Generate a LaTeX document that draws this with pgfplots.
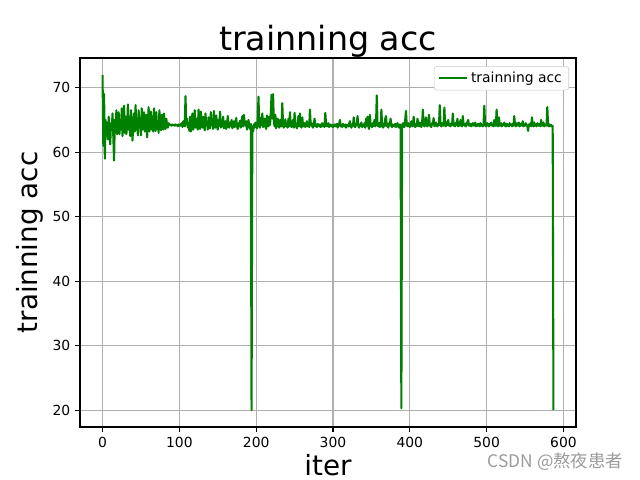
\documentclass[border=0pt]{standalone}
\usepackage{fontspec}
\setmainfont{DejaVu Sans}
\newfontfamily\cjk{Noto Sans CJK SC}
\usepackage{pgfplots}
\pgfplotsset{compat=1.18}
\definecolor{mplgreen}{RGB}{0,128,0}
\definecolor{gridgray}{RGB}{176,176,176}
\definecolor{legframe}{RGB}{204,204,204}
\definecolor{wmgray}{RGB}{155,155,155}
\begin{document}
\begin{tikzpicture}
\path[use as bounding box] (0,0) rectangle (460.8pt,345.6pt);
\begin{axis}[
 at={(57.6pt,38.16pt)}, anchor=south west,
 scale only axis, width=357.12pt, height=265.68pt,
 xmin=-29.35, xmax=616.35, ymin=17.4, ymax=74.6,
 xtick={0,100,...,600}, ytick={20,30,...,70},
 grid=major, major grid style={gridgray, line width=0.8pt},
 axis line style={black, line width=0.8pt},
 tick align=outside, tick pos=left, major tick length=3.5pt,
 tick style={black, line width=0.8pt},
 ticklabel style={font=\fontsize{10}{12}\selectfont},
 /pgf/number format/assume math mode=true,
 title={trainning acc},
 title style={font=\fontsize{24}{28}\selectfont, inner sep=0pt,
   at={(axis description cs:0.5,0.9973)}, anchor=base},
 xlabel={iter},
 xlabel style={font=\fontsize{20}{24}\selectfont, inner sep=0pt,
   at={(axis description cs:0.5,-0.132)}, anchor=base},
 ylabel={trainning acc},
 ylabel style={font=\fontsize{20}{24}\selectfont, inner sep=0pt,
   at={(axis description cs:-0.0847,0.5)}, anchor=base},
 legend style={at={(0.986,0.978)}, anchor=north east, draw=legframe,
   rounded corners=2pt, font=\fontsize{10}{12}\selectfont},
 legend cell align=left,
 legend image code/.code={\draw[#1] (0pt,0pt) -- (20pt,0pt);},
]
\addplot[mplgreen, line width=1.5pt, line join=round] table[x expr=\coordindex, y index=0, header=false, row sep=\\] {
72\\61\\69\\59\\65\\63\\64.5\\62\\65.5\\63\\61.2\\64.5\\63.5\\66\\62.5\\58.7\\65\\63\\66.5\\62.8\\
64.5\\66.2\\62.8\\65\\63.5\\66.8\\62.5\\64.8\\67.2\\63\\65.5\\62.8\\64\\67.4\\63.5\\65.2\\62.5\\66.5\\64\\61.8\\
64.5\\66\\63.2\\67.3\\63.5\\64.8\\62.6\\66.5\\63.8\\65.2\\62.6\\66.8\\63.5\\64.5\\66.2\\63.2\\64.5\\65.8\\62.3\\64.5\\
67\\63.2\\64.8\\66.3\\63.5\\65.5\\63.2\\66.8\\64\\63.3\\66.2\\63.6\\64.8\\63\\66.5\\64.2\\63.4\\65.8\\64.2\\63.5\\
66\\64\\63.6\\65.2\\64.2\\63.8\\64.5\\64.2\\64.3\\64.2\\64.1\\64.3\\64.2\\64.2\\64.1\\64.3\\64.2\\64.2\\64.0\\64.3\\
64.2\\64.1\\64.3\\64.5\\63.9\\64.8\\64.2\\64.0\\68.7\\64.3\\65.2\\63.8\\64.5\\63.3\\65.5\\63.2\\64.8\\66.0\\63.5\\64.2\\
66.5\\63.8\\64.5\\65.2\\63.5\\66.6\\64.1\\63.6\\66.3\\64.3\\63.8\\65.5\\64.1\\63.4\\66.0\\64.2\\64.6\\63.5\\65.4\\64.0\\
63.7\\66.2\\64.2\\64.5\\63.6\\66.4\\64.0\\63.8\\65.7\\64.3\\63.5\\65.0\\64.1\\66.3\\63.8\\64.4\\64.0\\65.5\\63.7\\64.3\\
64.8\\63.6\\64.2\\65.6\\64.0\\63.8\\64.6\\64.1\\65.0\\63.7\\64.3\\64.8\\63.9\\64.2\\65.3\\64.0\\63.6\\64.5\\64.1\\64.9\\
63.8\\64.4\\65.6\\64.0\\65.8\\64.5\\64.1\\64.8\\63.5\\64.3\\65.0\\64.0\\63.6\\64.4\\20.0\\64.0\\63.2\\64.3\\63.8\\64.6\\
64.2\\63.7\\65.0\\68.6\\64.1\\63.8\\65.3\\64.2\\66.0\\63.9\\64.5\\65.2\\64.0\\63.6\\65.7\\64.3\\64.0\\65.5\\64.2\\66.0\\
68.9\\65.2\\69.0\\64.8\\64.0\\65.8\\63.7\\64.5\\65.2\\64.1\\63.8\\65.0\\64.3\\64.0\\67.6\\64.2\\63.8\\64.5\\65.1\\64.0\\
64.3\\63.8\\65.2\\64.0\\66.2\\64.1\\63.9\\64.6\\65.0\\63.8\\66.1\\64.2\\64.0\\63.7\\64.5\\65.6\\64.0\\66.0\\64.1\\63.8\\
65.4\\64.2\\64.0\\64.5\\63.9\\64.2\\64.8\\64.0\\64.3\\63.9\\66.6\\64.2\\64.5\\64.0\\63.8\\64.3\\65.2\\64.1\\64.0\\63.9\\
64.4\\64.2\\64.0\\64.3\\63.9\\64.1\\64.5\\64.0\\64.2\\63.9\\66.1\\64.3\\64.0\\64.2\\64.5\\63.9\\64.1\\64.3\\64.0\\64.2\\
63.9\\64.1\\64.3\\64.0\\64.2\\64.4\\63.8\\64.1\\64.3\\65.0\\64.0\\64.2\\63.9\\64.4\\64.1\\64.0\\64.3\\63.8\\64.2\\64.1\\
64.0\\64.4\\64.8\\64.0\\63.8\\64.3\\64.1\\65.4\\64.0\\63.9\\64.2\\64.5\\65.6\\64.0\\63.8\\64.3\\64.1\\64.6\\63.9\\64.2\\
64.0\\64.5\\63.8\\65.2\\64.1\\65.5\\64.0\\63.6\\65.8\\64.2\\64.0\\63.9\\64.5\\64.1\\65.0\\64.0\\64.3\\68.8\\64.2\\64.0\\
64.5\\63.9\\64.2\\66.6\\64.1\\63.8\\64.4\\64.0\\65.2\\65.6\\64.1\\64.0\\63.8\\64.5\\64.2\\65.2\\64.0\\63.9\\64.3\\64.1\\
64.0\\64.4\\63.9\\64.2\\64.5\\64.0\\63.8\\64.3\\64.1\\20.3\\64.2\\64.5\\64.0\\63.9\\65.0\\66.4\\64.2\\64.0\\64.5\\64.1\\
63.9\\64.3\\64.8\\64.0\\64.2\\65.5\\64.1\\63.9\\64.4\\64.0\\65.2\\64.3\\64.0\\64.6\\64.2\\63.9\\64.5\\66.6\\64.2\\64.0\\
64.4\\65.4\\64.1\\64.0\\64.6\\65.8\\64.2\\64.0\\63.9\\64.5\\64.3\\65.3\\64.0\\64.2\\64.6\\64.1\\64.0\\64.4\\64.2\\67.3\\
64.3\\64.0\\64.5\\64.2\\64.1\\66.9\\64.3\\64.0\\64.6\\64.2\\65.0\\64.1\\64.3\\64.0\\64.5\\64.2\\66.0\\64.1\\64.3\\64.0\\
64.6\\64.2\\65.2\\64.0\\64.4\\64.1\\65.0\\64.3\\64.0\\65.6\\64.2\\64.4\\64.1\\64.0\\64.6\\64.3\\65.0\\64.1\\64.2\\64.4\\
64.0\\64.3\\64.5\\64.1\\64.2\\64.6\\64.0\\64.3\\64.1\\64.4\\64.2\\64.0\\64.5\\64.3\\64.1\\64.0\\64.4\\67.2\\64.2\\64.0\\
64.3\\64.5\\64.1\\64.0\\64.4\\64.2\\64.6\\64.1\\64.3\\64.0\\65.0\\64.2\\64.1\\66.6\\64.3\\64.0\\65.4\\64.2\\64.1\\64.5\\
64.0\\64.3\\64.2\\64.6\\64.1\\64.0\\64.4\\64.3\\64.1\\64.0\\64.5\\64.2\\64.3\\64.0\\64.4\\64.1\\65.6\\64.2\\64.0\\64.5\\
64.3\\64.1\\64.6\\64.0\\64.2\\64.4\\64.1\\64.8\\64.0\\64.3\\64.1\\64.5\\64.2\\64.0\\63.3\\64.3\\64.1\\64.5\\64.0\\65.4\\
64.2\\64.0\\64.6\\64.1\\64.3\\64.0\\64.5\\64.2\\64.1\\64.4\\64.0\\65.0\\64.2\\64.1\\64.6\\64.0\\64.3\\64.2\\64.1\\67.0\\
64.2\\64.0\\64.3\\64.1\\64.2\\64.0\\64.1\\20.0\\
};
\addlegendentry{trainning acc}
\end{axis}
\node[anchor=west, text=wmgray, font=\cjk\fontsize{12.5}{14}\selectfont, inner sep=0pt] at (351pt,13pt) {CSDN @熬夜患者};
\end{tikzpicture}
\end{document}
